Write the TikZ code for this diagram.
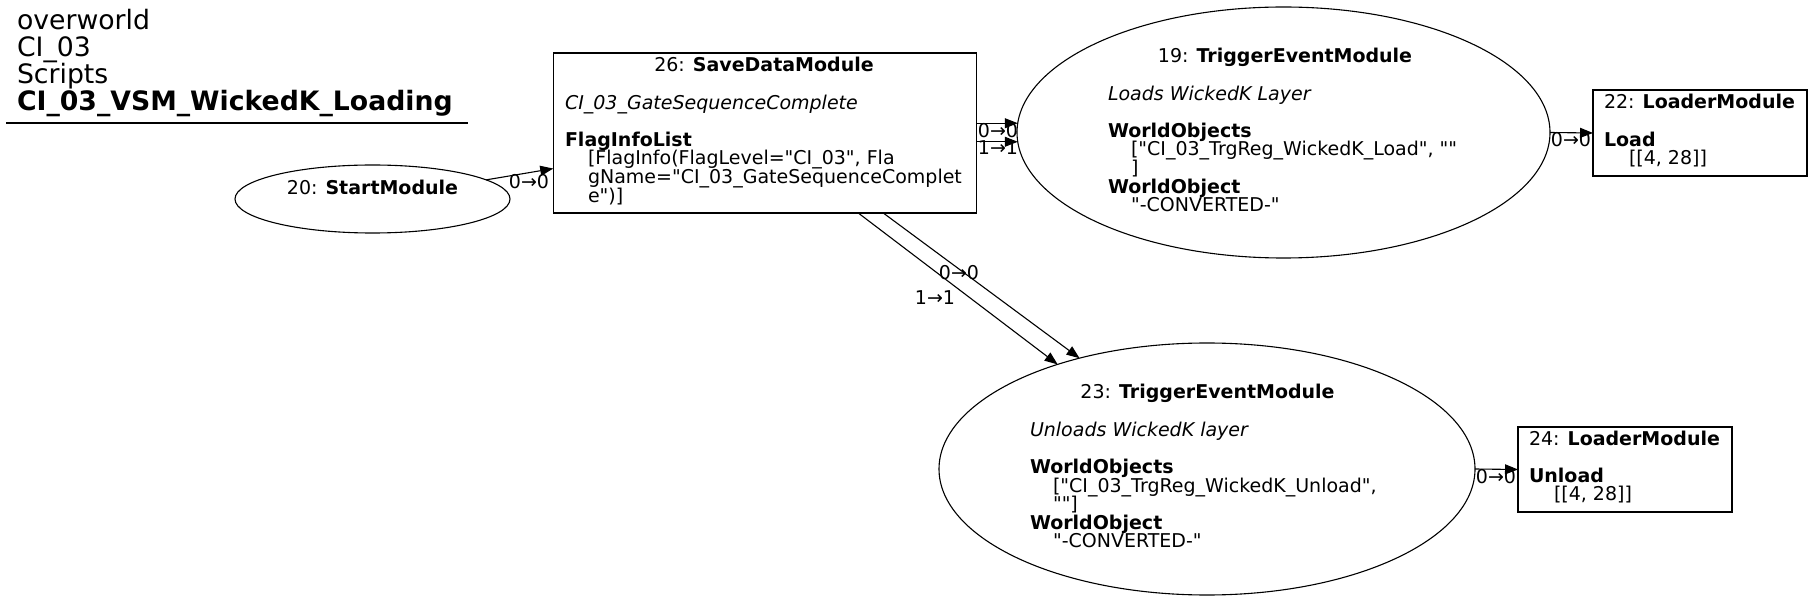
\documentclass[tikz,border=0pt]{standalone}
\usepackage{fontspec}
\setmainfont{DejaVu Sans}[Ligatures=TeXOff]
\usetikzlibrary{arrows.meta,shapes.geometric}
\newcommand\blk[2][18.6pt]{\vtop{\baselineskip=#1\lineskiplimit=-\maxdimen\lineskip=0pt\relax #2}}
\newcommand\ind{\kern23pt}
\begin{document}
\begin{tikzpicture}[x=1pt,y=-1pt,
  every node/.style={inner sep=0pt, outer sep=0pt},
  shapebox/.style={draw, line width=1.1pt, rectangle},
  shapeell/.style={draw, line width=1.1pt, ellipse},
  txt/.style={anchor=base west, font=\fontsize{19}{18.6}\selectfont},
  lbl/.style={anchor=base, font=\fontsize{19}{18.6}\selectfont},
  conn/.style={line width=1.1pt, -{Triangle[length=13pt,width=10pt]}},
]
\fill[white] (0,0) rectangle (1812,601);
\useasboundingbox (0,0) rectangle (1812,601);

% title
\node[anchor=base west, font=\fontsize{26.7}{26.7}\selectfont] (title) at (17,30)
  {\blk[26.7pt]{\hbox{overworld}\hbox{CI\_03}\hbox{Scripts}\hbox{\bfseries CI\_03\_VSM\_WickedK\_Loading}}};
\draw[line width=1.1pt] (6,123) -- (468,123);

% shapes
\node[shapeell, minimum width=275pt, minimum height=68pt] (n20) at (372.5,199) {};
\node[shapebox, minimum width=423pt, minimum height=160pt] (n26) at (764.75,133) {};
\node[shapeell, minimum width=533pt, minimum height=251pt] (n19) at (1283.5,132.5) {};
\node[shapebox, minimum width=214pt, minimum height=86pt] (n22) at (1700,133) {};
\node[shapeell, minimum width=536pt, minimum height=252pt] (n23) at (1207,469) {};
\node[shapebox, minimum width=214pt, minimum height=85pt] (n24) at (1625,469.5) {};

% texts
\node[lbl] (t20) at (372.5,195) {20: \textbf{StartModule}};
\node[txt] (t26) at (565,72) {\blk{%
  \hbox to 398pt{\hss 26: \textbf{SaveDataModule}\hss}%
  \hbox{}%
  \hbox{\itshape CI\_03\_GateSequenceComplete}%
  \hbox{}%
  \hbox{\bfseries FlagInfoList}%
  \hbox{\ind[FlagInfo(FlagLevel="CI\_03", Fla}%
  \hbox{\ind gName="CI\_03\_GateSequenceComplet}%
  \hbox{\ind e")]}}};
\node[txt] (t19) at (1108,63) {\blk{%
  \hbox to 354pt{\hss 19: \textbf{TriggerEventModule}\hss}%
  \hbox{}%
  \hbox{\itshape Loads WickedK Layer}%
  \hbox{}%
  \hbox{\bfseries WorldObjects}%
  \hbox{\ind["CI\_03\_TrgReg\_WickedK\_Load", ""}%
  \hbox{\ind]}%
  \hbox{\bfseries WorldObject}%
  \hbox{\ind"-CONVERTED-"}}};
\node[txt] (t22) at (1604,109) {\blk{%
  \hbox{22: \textbf{LoaderModule}}%
  \hbox{}%
  \hbox{\bfseries Load}%
  \hbox{\kern25pt[[4, 28]]}}};
\node[txt] (t23) at (1030,399) {\blk{%
  \hbox to 355pt{\hss 23: \textbf{TriggerEventModule}\hss}%
  \hbox{}%
  \hbox{\itshape Unloads WickedK layer}%
  \hbox{}%
  \hbox{\bfseries WorldObjects}%
  \hbox{\ind["CI\_03\_TrgReg\_WickedK\_Unload",}%
  \hbox{\ind""]}%
  \hbox{\bfseries WorldObject}%
  \hbox{\ind"-CONVERTED-"}}};
\node[txt] (t24) at (1529,445) {\blk{%
  \hbox{24: \textbf{LoaderModule}}%
  \hbox{}%
  \hbox{\bfseries Unload}%
  \hbox{\kern25pt[[4, 28]]}}};

% connectors
\draw[conn] (n20) -- (n26);
\draw[conn] (n26.east |- n19.178.17) -- (n19.178.17);
\draw[conn] (n26.east |- n19.182.05) -- (n19.182.05);
\draw[conn] (n19.east) -- (n22.west);
\draw[conn] ([xshift=93.5pt]n26.south) -- (n23.145.27);
\draw[conn] ([xshift=118.5pt]n26.south) -- (n23.139.76);
\draw[conn] (n23.east) -- (n24.west);

% labels
\node[lbl] (l1) at (529,189) {0→0};
\node[lbl] (l2) at (998,138) {0→0};
\node[lbl] (l3) at (998,155) {1→1};
\node[lbl] (l4) at (1571,147) {0→0};
\node[lbl] (l5) at (959,280) {0→0};
\node[lbl] (l6) at (935,305) {1→1};
\node[lbl] (l7) at (1496,483) {0→0};
\end{tikzpicture}
\end{document}
